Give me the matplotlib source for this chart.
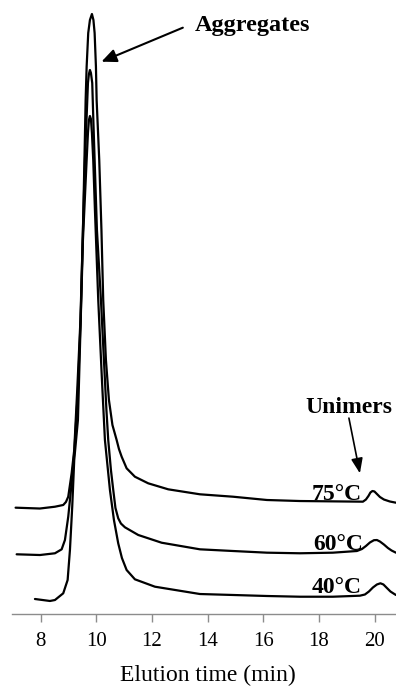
import matplotlib
matplotlib.use('Agg')
import matplotlib.pyplot as plt
import numpy as np

plt.rcParams['font.family'] = ['Liberation Serif', 'DejaVu Serif']

# elution time (min) and detector signal (a.u.)
t75 = [7.10, 7.97, 8.514, 8.812, 8.909, 8.992, 9.114, 9.207, 9.315, 9.430, 9.520,
       9.574, 9.617, 9.653, 9.710, 9.771, 9.843, 9.897, 9.940, 9.987, 10.012,
       10.106, 10.185, 10.249, 10.346, 10.454, 10.580, 10.731, 10.814, 10.911,
       11.090, 11.388, 11.866, 12.585, 13.724, 14.910, 16.131, 17.317, 19.581,
       19.689, 19.78, 19.851, 19.923, 19.995, 20.085, 20.193, 20.336, 20.55, 20.767]
s75 = [17.77, 17.63, 17.93, 18.22, 18.72, 19.6, 23.5, 27.38, 37.38, 49.05, 64.05,
       75.72, 85.72, 91.27, 96.88, 99.05, 100.05, 99.05, 96.88, 91.27, 85.72,
       75.72, 64.05, 52.38, 42.38, 35.72, 31.55, 29.05, 27.55, 26.27,
       24.33, 22.93, 21.83, 20.83, 20.0, 19.6, 19.05, 18.88, 18.77,
       19.13, 19.72, 20.3, 20.55, 20.47, 20.05, 19.55, 19.13, 18.8, 18.6]

t60 = [7.138, 7.975, 8.514, 8.755, 8.873, 8.992, 9.114, 9.207, 9.340, 9.437, 9.520,
       9.592, 9.653, 9.700, 9.735, 9.771, 9.807, 9.854, 9.890, 9.940, 10.023,
       10.167, 10.274, 10.364, 10.429, 10.526, 10.609, 10.688, 10.788, 10.885,
       11.029, 11.507, 12.348, 13.724, 14.910, 16.131, 17.317, 18.503, 19.365,
       19.545, 19.689, 19.833, 19.977, 20.085, 20.193, 20.336, 20.480, 20.612, 20.767]
s60 = [10.0, 9.88, 10.17, 10.83, 12.38, 16.27, 21.83, 26.83, 37.38, 49.05, 64.05,
       75.72, 82.93, 88.55, 90.05, 90.72, 90.22, 88.55, 82.93, 75.72, 64.05,
       52.38, 42.38, 34.05, 29.05, 24.05, 20.72, 17.72, 16.0, 15.13,
       14.5, 13.22, 11.93, 10.83, 10.55, 10.27, 10.17, 10.27, 10.55,
       10.88, 11.38, 11.97, 12.35, 12.38, 12.13, 11.63, 11.05, 10.63, 10.27]

t40 = [7.795, 8.334, 8.514, 8.812, 8.970, 9.053, 9.135, 9.207, 9.340, 9.430, 9.520,
       9.653, 9.700, 9.735, 9.771, 9.807, 9.843, 9.890, 9.951, 10.070, 10.203,
       10.310, 10.490, 10.634, 10.788, 10.921, 11.090, 11.388, 12.107, 13.724,
       14.910, 16.131, 17.317, 18.503, 19.473, 19.653, 19.797, 19.941, 20.085,
       20.210, 20.318, 20.444, 20.570, 20.670, 20.767]
s40 = [2.55, 2.22, 2.38, 3.5, 5.72, 10.72, 17.93, 25.72, 32.38, 47.38, 62.38,
       75.72, 80.22, 82.38, 83.05, 82.55, 80.22, 75.72, 67.38, 52.38, 39.05,
       29.05, 20.72, 15.72, 11.83, 9.38, 7.38, 5.83, 4.6, 3.38,
       3.22, 3.05, 2.93, 2.93, 3.1, 3.3, 3.8, 4.47, 4.97,
       5.17, 4.97, 4.38, 3.8, 3.5, 3.22]

labels = ['75°C', '60°C', '40°C']
label_x = [17.75, 17.78, 17.75]
label_y = [19.05, 10.72, 3.5]
xticks = [8, 10, 12, 14, 16, 18, 20]

fig = plt.figure(figsize=(3.96, 6.88), dpi=100)
ax = fig.add_axes([11.7 / 396, 1 - 614.3 / 688, (396 - 11.7) / 396, 614.3 / 688])

for t, s in [(t75, s75), (t60, s60), (t40, s40)]:
    ax.plot(t, s, color='black', lw=1.6, solid_capstyle='round', solid_joinstyle='round')

for lab, lx, ly in zip(labels, label_x, label_y):
    ax.text(lx, ly, lab, fontsize=17, fontweight='bold', ha='left', va='baseline')

ax.text(13.545, 97.3, 'Aggregates', fontsize=17.5, fontweight='bold', ha='left', va='baseline')
ax.annotate('', xy=(10.185, 92.1), xytext=(13.11, 97.77),
            arrowprops=dict(arrowstyle='-|>,head_length=0.9,head_width=0.4',
                            color='black', lw=1.5, shrinkA=0, shrinkB=0))

ax.text(17.497, 33.5, 'Unimers', fontsize=17, fontweight='bold', ha='left', va='baseline')
ax.annotate('', xy=(19.473, 23.5), xytext=(19.078, 32.7),
            arrowprops=dict(arrowstyle='-|>,head_length=0.9,head_width=0.35',
                            color='black', lw=1.2, shrinkA=0, shrinkB=0))

ax.set_xlim(6.96, 20.77)
ax.set_ylim(0, 614.3 / 6)
ax.set_xticks(xticks)
ax.set_yticks([])
for side in ['top', 'right', 'left']:
    ax.spines[side].set_visible(False)
ax.spines['bottom'].set_color('#8c8c8c')
ax.spines['bottom'].set_linewidth(1.0)
ax.tick_params(axis='x', direction='out', length=6, width=1.0, color='#8c8c8c',
               labelsize=15, pad=7)
ax.patch.set_alpha(0)

fig.text(207.5 / 396, 1 - 681 / 688, 'Elution time (min)', fontsize=17,
         ha='center', va='baseline')

fig.savefig('out.png', dpi=100)
